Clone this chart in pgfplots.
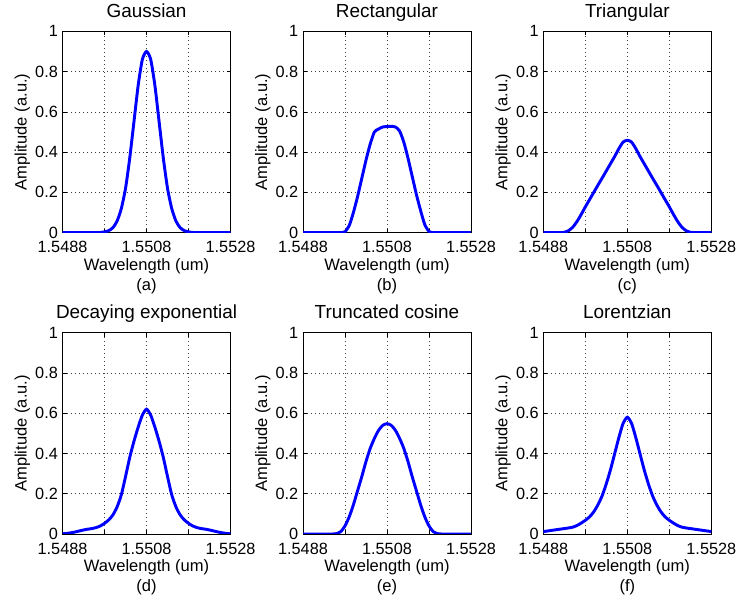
\documentclass[border=0pt]{standalone}
\usepackage{fontspec}
\setmainfont{Liberation Sans}
\usepackage{pgfplots}
\usepackage{pgfplotstable}
\pgfplotsset{compat=1.18}
% columns: wavelength, (a) Gaussian, (b) Rectangular, (c) Triangular,
% (d) Decaying exponential, (e) Truncated cosine, (f) Lorentzian
\pgfplotstableread{
x a b c d e f
1.5488 0 0 0 0.001 0 0.012
1.5489 0 0 0 0.003 0 0.015
1.5490 0 0 0 0.006 0 0.018
1.5491 0 0 0 0.010 0 0.021
1.5492 0 0 0 0.015 0 0.024
1.5493 0 0 0.002 0.020 0 0.027
1.5494 0 0 0.010 0.024 0 0.030
1.5495 0 0 0.027 0.027 0 0.034
1.5496 0 0 0.055 0.032 0.002 0.042
1.5497 0.001 0 0.090 0.040 0.012 0.054
1.5498 0.004 0.005 0.128 0.053 0.040 0.068
1.5499 0.010 0.035 0.164 0.070 0.085 0.085
1.5500 0.025 0.100 0.200 0.095 0.145 0.110
1.5501 0.058 0.180 0.236 0.135 0.215 0.145
1.5502 0.120 0.270 0.271 0.195 0.285 0.190
1.5503 0.220 0.360 0.307 0.285 0.360 0.250
1.5504 0.370 0.440 0.343 0.380 0.425 0.320
1.5505 0.550 0.500 0.379 0.460 0.475 0.400
1.5506 0.730 0.515 0.418 0.530 0.515 0.480
1.5507 0.860 0.525 0.450 0.590 0.540 0.550
1.5508 0.900 0.527 0.459 0.620 0.548 0.580
1.5509 0.860 0.528 0.450 0.590 0.540 0.550
1.5510 0.730 0.525 0.418 0.530 0.515 0.480
1.5511 0.550 0.505 0.379 0.460 0.475 0.400
1.5512 0.370 0.450 0.343 0.380 0.425 0.320
1.5513 0.220 0.370 0.307 0.285 0.360 0.250
1.5514 0.120 0.280 0.271 0.195 0.285 0.190
1.5515 0.058 0.190 0.236 0.135 0.215 0.145
1.5516 0.025 0.110 0.200 0.095 0.145 0.110
1.5517 0.010 0.040 0.164 0.070 0.085 0.085
1.5518 0.004 0.006 0.128 0.053 0.040 0.068
1.5519 0.001 0 0.090 0.040 0.012 0.054
1.5520 0 0 0.055 0.032 0.002 0.042
1.5521 0 0 0.027 0.027 0 0.034
1.5522 0 0 0.010 0.024 0 0.030
1.5523 0 0 0.002 0.020 0 0.027
1.5524 0 0 0 0.015 0 0.024
1.5525 0 0 0 0.010 0 0.021
1.5526 0 0 0 0.006 0 0.018
1.5527 0 0 0 0.003 0 0.015
1.5528 0 0 0 0.001 0 0.012
}\data
\pgfplotsset{
 myax/.style={
  scale only axis, width=126pt, height=151pt,
  xmin=1.5488, xmax=1.5528, ymin=0, ymax=1,
  xtick={1.5488,1.5498,1.5508,1.5518,1.5528},
  xticklabels={1.5488,,1.5508,,1.5528},
  ytick={0,0.2,0.4,0.6,0.8,1},
  yticklabels={0,0.2,0.4,0.6,0.8,1},
  grid=major,
  major grid style={black!75, line width=0.5pt, dash pattern=on 0.6pt off 2.4pt},
  tick align=inside, major tick length=3pt,
  tick style={black, line width=0.5pt},
  axis line style={black, line width=0.6pt},
  ticklabel style={font=\fontsize{12.2}{14}\selectfont},
  xticklabel style={yshift=-3pt},
  label style={font=\fontsize{12.4}{15}\selectfont},
  ylabel={Amplitude (a.u.)},
  xlabel style={align=center, yshift=3pt},
  ylabel style={yshift=-3pt},
  title style={font=\fontsize{14.2}{17}\selectfont, anchor=base, yshift=4.7pt},
  anchor=south west,
  /pgf/number format/assume math mode=true,
 },
 myline/.style={blue, line width=2.2pt, smooth, tension=0.4, no markers},
}
\begin{document}
\begin{tikzpicture}
\useasboundingbox (0,0) rectangle (555pt,453pt);
\begin{axis}[myax, at={(46.9pt,278.5pt)}, title={Gaussian}, xlabel={Wavelength (um)\\(a)}]
\addplot[myline] table[x=x,y=a] {\data};
\end{axis}
\begin{axis}[myax, at={(227.25pt,278.5pt)}, title={Rectangular}, xlabel={Wavelength (um)\\(b)}]
\addplot[myline] table[x=x,y=b] {\data};
\end{axis}
\begin{axis}[myax, at={(407.5pt,278.5pt)}, title={Triangular}, xlabel={Wavelength (um)\\(c)}]
\addplot[myline] table[x=x,y=c] {\data};
\end{axis}
\begin{axis}[myax, at={(46.9pt,52.5pt)}, title={Decaying exponential}, xlabel={Wavelength (um)\\(d)}]
\addplot[myline] table[x=x,y=d] {\data};
\end{axis}
\begin{axis}[myax, at={(227.25pt,52.5pt)}, title={Truncated cosine}, xlabel={Wavelength (um)\\(e)}]
\addplot[myline] table[x=x,y=e] {\data};
\end{axis}
\begin{axis}[myax, at={(407.5pt,52.5pt)}, title={Lorentzian}, xlabel={Wavelength (um)\\(f)}]
\addplot[myline] table[x=x,y=f] {\data};
\end{axis}
\end{tikzpicture}
\end{document}
